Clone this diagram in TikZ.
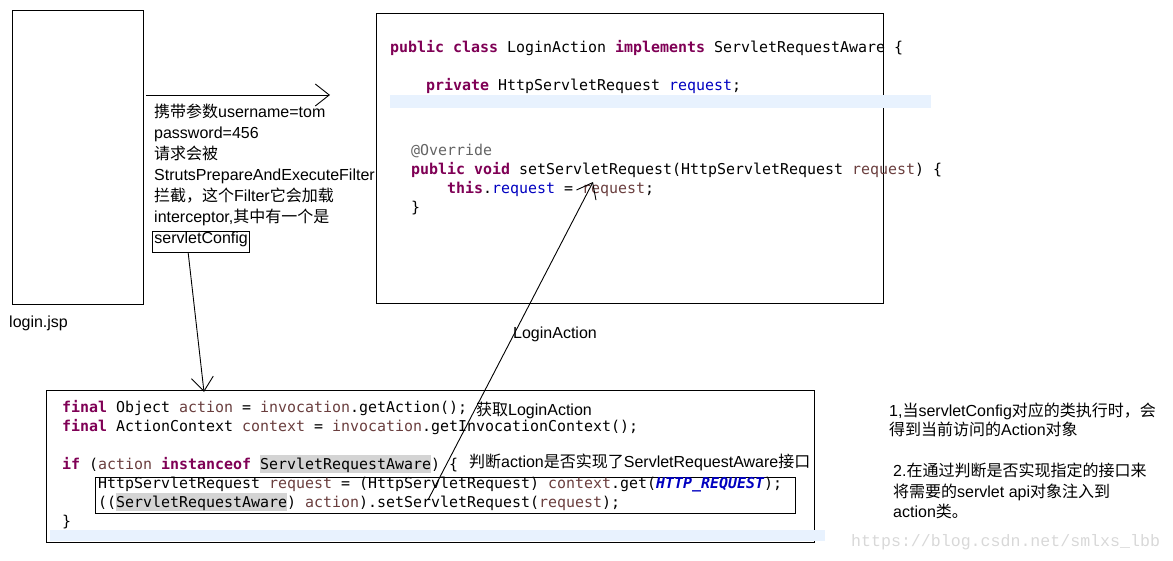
\documentclass[tikz,border=0pt]{standalone}
\usepackage{fontspec}
\setmainfont{Liberation Sans}
\newfontfamily\cjk{Noto Sans CJK SC}
\newfontfamily\codefont{DejaVu Sans Mono}
\newfontfamily\wmfont{Liberation Mono}
\usetikzlibrary{arrows.meta}
\definecolor{kwc}{HTML}{7F0055}
\definecolor{fldc}{HTML}{0000C0}
\definecolor{lvc}{HTML}{6A3E3E}
\definecolor{annc}{HTML}{646464}
\definecolor{hlc}{HTML}{D4D4D4}
\definecolor{bandc}{HTML}{E8F2FE}
\definecolor{wmc}{HTML}{D8D8D8}
\newcommand\jkw[1]{{\bfseries\color{kwc}#1}}
\newcommand\jfld[1]{{\color{fldc}#1}}
\newcommand\jlv[1]{{\color{lvc}#1}}
\newcommand\jann[1]{{\color{annc}#1}}
\newcommand\zh[1]{{\cjk #1}}
\tikzset{
  txt/.style={anchor=base west, inner sep=0pt, font=\fontsize{16}{21}\selectfont},
  codeline/.style={anchor=base west, inner sep=0pt, font=\codefont\fontsize{14.95}{19}\selectfont},
  arr/.style={-{Straight Barb[length=14pt,width=22pt]}, line width=0.9pt},
  boxed/.style={draw, line width=0.9pt, anchor=north west, inner sep=0pt},
}
\begin{document}
\begin{tikzpicture}[x=1pt,y=-1pt]
\useasboundingbox (0,0) rectangle (1173,561);
% boxes
\node[boxed, minimum width=131, minimum height=294] (loginbox) at (12,10) {};
\node[boxed, minimum width=507, minimum height=290] (code1) at (376,13) {};
\node[boxed, minimum width=768, minimum height=152] (code2) at (46,390) {};
\node[boxed, minimum width=700, minimum height=36] (injbox) at (95,477) {};
% bands and highlights
\fill[bandc] (390,95) rectangle (931,108);
\fill[bandc] (50,530) rectangle (825,541);
\fill[hlc] (260,455) rectangle (431,473);
\fill[hlc] (116,493) rectangle (287,511);
% labels
\node[txt] (loginlbl) at (9,327) {login.jsp};
\node[txt] (t1) at (154,118) {\zh{携带参数}username=tom};
\node[txt] (t2) at (154,139) {password=456};
\node[txt] (t3) at (154,160) {\zh{请求会被}};
\node[txt] (t4) at (154,181) {StrutsPrepareAndExecuteFilter};
\node[txt] (t5) at (154,202) {\zh{拦截，这个}Filter\zh{它会加载}};
\node[txt] (t6) at (154,223) {interceptor,\zh{其中有一个是}};
\node[txt, draw, line width=0.9pt, inner xsep=2pt, inner ysep=2pt, text height=11pt, text depth=6pt] (cfg) at (152,244) {servletConfig};
\node[txt] (lalbl) at (513,339) {LoginAction};
% top code
\node[codeline] (c1) at (390,53) {\jkw{public} \jkw{class} LoginAction \jkw{implements} ServletRequestAware \{};
\node[codeline] (c2) at (426,91) {\jkw{private} HttpServletRequest \jfld{request};};
\node[codeline] (c3) at (411,156) {\jann{@Override}};
\node[codeline] (c4) at (411,175) {\jkw{public} \jkw{void} setServletRequest(HttpServletRequest \jlv{request}) \{};
\node[codeline] (c5) at (447,194) {\jkw{this}.\jfld{request} = \jlv{request};};
\node[codeline] (c6) at (411,213) {\}};
% bottom code
\node[codeline] (b1) at (62,412) {\jkw{final} Object \jlv{action} = \jlv{invocation}.getAction();};
\node[codeline] (b2) at (62,431) {\jkw{final} ActionContext \jlv{context} = \jlv{invocation}.getInvocationContext();};
\node[codeline] (b3) at (62,469) {\jkw{if} (\jlv{action} \jkw{instanceof} ServletRequestAware) \{};
\node[codeline] (b4) at (98,488) {HttpServletRequest \jlv{request} = (HttpServletRequest) \jlv{context}.get({\bfseries\itshape\color{fldc}HTTP\_REQUEST});};
\node[codeline] (b5) at (98,507) {((ServletRequestAware) \jlv{action}).setServletRequest(\jlv{request});};
\node[codeline] (b6) at (62,526) {\}};
\node[txt] (n1) at (476,415) {\zh{获取}LoginAction};
\node[txt] (n2) at (469,467) {\zh{判断}action\zh{是否实现了}ServletRequestAware\zh{接口}};
% right notes
\node[txt] (r1) at (889,416) {1,\zh{当}servletConfig\zh{对应的类执行时，会}};
\node[txt] (r2) at (889,435) {\zh{得到当前访问的}Action\zh{对象}};
\node[txt] (r3) at (893,476) {2.\zh{在通过判断是否实现指定的接口来}};
\node[txt] (r4) at (893,497) {\zh{将需要的}servlet api\zh{对象注入到}};
\node[txt] (r5) at (893,517) {action\zh{类。}};
\node[anchor=base west, inner sep=0pt, font=\wmfont\fontsize{16.6}{20}\selectfont, text=wmc] (wm) at (851,546) {https://blog.csdn.net/smlxs\_lbb};
% connectors
\coordinate (reqtip) at (330,95);
\coordinate (cfgtip) at (204,392);
\coordinate (lastart) at (428,500);
\coordinate (latip) at (593,182);
\draw[arr] ([xshift=2]loginbox.east |- reqtip) -- (reqtip);
\draw[arr] ([xshift=-13]cfg.south) -- (cfgtip);
\draw[arr] (lastart) -- (latip);
\end{tikzpicture}
\end{document}
